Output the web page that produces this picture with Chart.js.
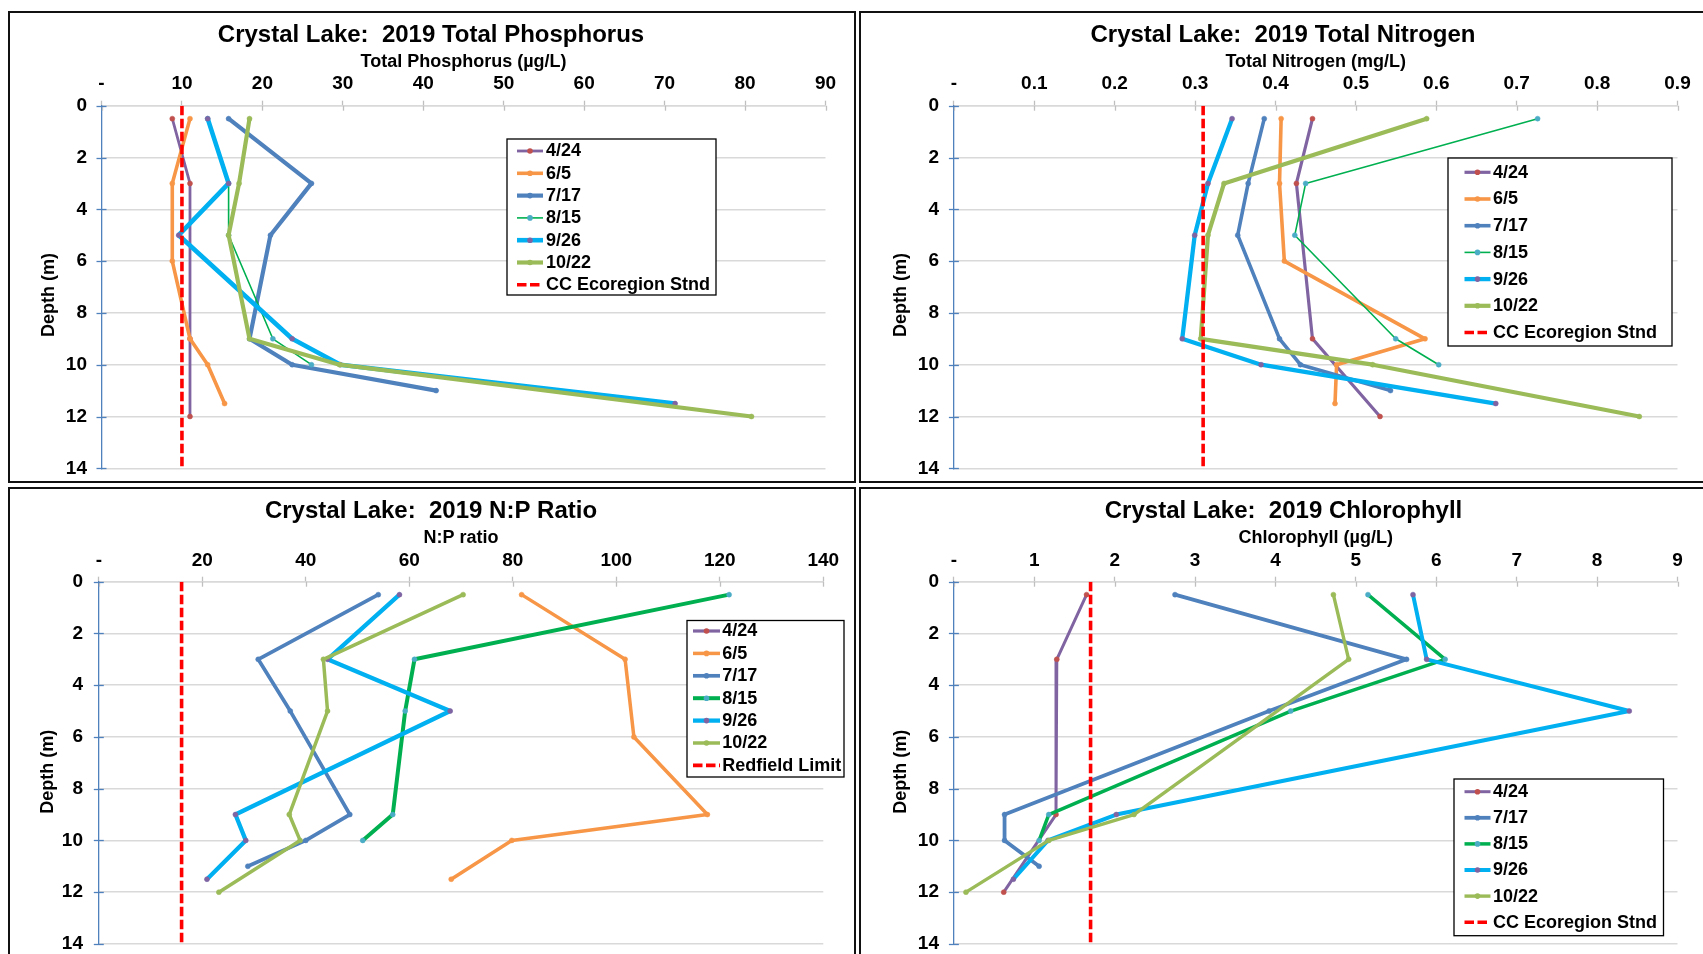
<!DOCTYPE html>
<html>
<head>
<meta charset="utf-8">
<script src="https://cdn.jsdelivr.net/npm/chart.js@4.4.1/dist/chart.umd.min.js"></script>
<style>
  html, body { margin: 0; padding: 0; background: #fff; }
  body { width: 1703px; height: 954px; overflow: hidden; position: relative; }
  .frame { position: absolute; border: 2px solid #111; box-sizing: border-box; background: #fff; }
  canvas { position: absolute; }
</style>
</head>
<body>
<div class="frame" style="left:8px;top:11px;width:848px;height:472px"></div>
<div class="frame" style="left:859px;top:11px;width:848px;height:472px"></div>
<div class="frame" style="left:8px;top:487px;width:848px;height:472px"></div>
<div class="frame" style="left:859px;top:487px;width:848px;height:472px"></div>
<canvas id="tp"  width="844" height="468" style="left:10px;top:13px;width:844px;height:468px"></canvas>
<canvas id="tn"  width="844" height="468" style="left:861px;top:13px;width:844px;height:468px"></canvas>
<canvas id="np"  width="844" height="468" style="left:10px;top:489px;width:844px;height:468px"></canvas>
<canvas id="chl" width="844" height="468" style="left:861px;top:489px;width:844px;height:468px"></canvas>
<script>
// ---------------------------------------------------------------------------
// Crystal Lake 2019 depth profiles
// ---------------------------------------------------------------------------

// Depth axis (m)
const depthTicks = [0, 2, 4, 6, 8, 10, 12, 14];
const depthTickLabels = ['0', '2', '4', '6', '8', '10', '12', '14'];

// Sampling depths (m) per sampling date
const depth_0424 = [0.5, 3, 9, 12];
const depth_0605 = [0.5, 3, 6, 9, 10, 11.5];
const depth_0717 = [0.5, 3, 5, 9, 10, 11];
const depth_0815 = [0.5, 3, 5, 9, 10];
const depth_0926 = [0.5, 3, 5, 9, 10, 11.5];
const depth_1022 = [0.5, 3, 5, 9, 10, 12];
const chlDepth_1022 = [0.5, 3, 9, 10, 12];
const stdDepth = [0, 14];

// Total Phosphorus (µg/L)
const tpTicks = [0, 10, 20, 30, 40, 50, 60, 70, 80, 90];
const tpTickLabels = ['-', '10', '20', '30', '40', '50', '60', '70', '80', '90'];
const tp_0424 = [8.8, 11.0, 11.0, 11.0];
const tp_0605 = [11.0, 8.8, 8.8, 11.0, 13.2, 15.3];
const tp_0717 = [15.8, 26.1, 21.0, 18.4, 23.7, 41.6];
const tp_0815 = [13.2, 15.8, 15.8, 21.3, 26.1];
const tp_0926 = [13.2, 15.8, 9.6, 23.7, 29.7, 71.3];
const tp_1022 = [18.4, 17.1, 15.8, 18.4, 29.6, 80.8];
const tpStd = [10, 10];

// Total Nitrogen (mg/L)
const tnTicks = [0, 0.1, 0.2, 0.3, 0.4, 0.5, 0.6, 0.7, 0.8, 0.9];
const tnTickLabels = ['-', '0.1', '0.2', '0.3', '0.4', '0.5', '0.6', '0.7', '0.8', '0.9'];
const tn_0424 = [0.446, 0.426, 0.446, 0.530];
const tn_0605 = [0.407, 0.405, 0.411, 0.586, 0.476, 0.474];
const tn_0717 = [0.386, 0.366, 0.353, 0.405, 0.431, 0.543];
const tn_0815 = [0.726, 0.4375, 0.424, 0.5495, 0.603];
const tn_0926 = [0.346, 0.316, 0.2995, 0.284, 0.382, 0.674];
const tn_1022 = [0.588, 0.336, 0.316, 0.307, 0.521, 0.8525];
const tnStd = [0.31, 0.31];

// N:P ratio
const npTicks = [0, 20, 40, 60, 80, 100, 120, 140];
const npTickLabels = ['-', '20', '40', '60', '80', '100', '120', '140'];
const np_0424 = [];
const np_0605 = [81.7, 101.7, 103.4, 117.6, 79.8, 68.1];
const np_0717 = [54.0, 30.8, 37.0, 48.5, 40.0, 28.8];
const np_0815 = [121.8, 61.0, 59.2, 56.8, 51.0];
const np_0926 = [58.1, 44.2, 67.9, 26.4, 28.4, 20.9];
const np_1022 = [70.4, 43.4, 44.2, 36.8, 38.9, 23.2];
const npRedfield = [16, 16];

// Chlorophyll (µg/L)
const chlTicks = [0, 1, 2, 3, 4, 5, 6, 7, 8, 9];
const chlTickLabels = ['-', '1', '2', '3', '4', '5', '6', '7', '8', '9'];
const chl_0424 = [1.65, 1.28, 1.27, 0.62];
const chl_0717 = [2.75, 5.63, 3.92, 0.63, 0.63, 1.06];
const chl_0815 = [5.15, 6.11, 4.19, 1.18, 1.06];
const chl_0926 = [5.71, 5.88, 8.40, 2.02, 1.17, 0.74];
const chl_1022 = [4.72, 4.91, 2.24, 1.18, 0.15];
const chlStd = [1.7, 1.7];

// ---------------------------------------------------------------------------
// Styling
// ---------------------------------------------------------------------------
const FONT = '"Liberation Sans", Arial, Helvetica, sans-serif';
Chart.defaults.font.family = FONT;
Chart.defaults.color = '#000';

const LINE = { d0424: '#8064A2', d0605: '#F79646', d0717: '#4F81BD', d0815: '#00B050', d0926: '#00B0F0', d1022: '#9BBB59', std: '#FF0000' };
const MARK = { d0424: '#C0504D', d0605: '#F79646', d0717: '#4F81BD', d0815: '#4BACC6', d0926: '#8064A2', d1022: '#9BBB59' };
const GRID = '#D9D9D9';
const AXIS_BLUE = '#4F81BD';

const TITLE_SIZE = 24, AXIS_TITLE_SIZE = 18, TICK_SIZE = 19, LEGEND_SIZE = 18, DEPTH_SIZE = 18;
const LH = 1.2, TICK_LEN = 5;

function points(depths, values) {
  return values.map((v, i) => ({ x: v, y: depths[i] }));
}

function series(label, key, depths, values, width) {
  return {
    label,
    data: points(depths, values),
    showLine: true,
    borderColor: LINE[key],
    backgroundColor: MARK[key],
    pointBackgroundColor: MARK[key],
    pointBorderColor: MARK[key],
    pointBorderWidth: 0.5,
    pointRadius: 2.5,
    borderWidth: width,
    borderJoinStyle: 'round',
    borderCapStyle: 'round',
    tension: 0
  };
}

function standard(label, values) {
  return {
    label,
    data: points(stdDepth, values),
    showLine: true,
    borderColor: LINE.std,
    backgroundColor: LINE.std,
    borderWidth: 3.6,
    borderDash: [9.5, 3.5],
    borderCapStyle: 'butt',
    pointRadius: 0,
    tension: 0
  };
}

// Tick marks crossing the axis lines, depth-axis title and the framed legend
const panelExtras = {
  id: 'panelExtras',
  beforeDatasetsDraw(chart) {
    const { ctx, chartArea: a, scales: { x, y } } = chart;
    ctx.save();
    ctx.lineWidth = 1.3;
    ctx.strokeStyle = '#BFBFBF';
    x.ticks.forEach(t => {
      const px = Math.round(x.getPixelForValue(t.value)) + 0.5;
      ctx.beginPath(); ctx.moveTo(px, a.top); ctx.lineTo(px, a.top + TICK_LEN); ctx.stroke();
    });
    ctx.strokeStyle = AXIS_BLUE;
    y.ticks.forEach(t => {
      const py = Math.round(y.getPixelForValue(t.value)) + 0.5;
      ctx.beginPath(); ctx.moveTo(a.left - TICK_LEN, py); ctx.lineTo(a.left + TICK_LEN, py); ctx.stroke();
    });
    ctx.restore();
  },
  afterDraw(chart, args, opts) {
    const { ctx } = chart;
    const o = opts.origin;
    ctx.save();
    // Depth axis title
    ctx.translate(opts.depthTitle.x - o.x, opts.depthTitle.y - o.y);
    ctx.rotate(-Math.PI / 2);
    ctx.font = 'bold ' + DEPTH_SIZE + 'px ' + FONT;
    ctx.fillStyle = '#000';
    ctx.textAlign = 'center';
    ctx.textBaseline = 'middle';
    ctx.fillText(opts.depthTitle.text, 0, 0);
    ctx.restore();

    // Legend
    const L = opts.legend;
    ctx.save();
    ctx.fillStyle = '#fff';
    ctx.fillRect(L.x0 - o.x, L.y0 - o.y, L.x1 - L.x0, L.y1 - L.y0);
    ctx.strokeStyle = '#000';
    ctx.lineWidth = 1.3;
    ctx.strokeRect(L.x0 - o.x, L.y0 - o.y, L.x1 - L.x0, L.y1 - L.y0);
    ctx.font = 'bold ' + LEGEND_SIZE + 'px ' + FONT;
    ctx.textAlign = 'left';
    ctx.textBaseline = 'middle';
    chart.data.datasets.forEach((ds, i) => {
      const yy = L.row1 + i * L.step - o.y;
      const sx0 = L.sx0 - o.x, sx1 = L.sx1 - o.x;
      ctx.strokeStyle = ds.borderColor;
      ctx.lineWidth = ds.borderWidth;
      ctx.lineCap = 'butt';
      ctx.setLineDash(ds.borderDash || []);
      ctx.beginPath(); ctx.moveTo(sx0, yy); ctx.lineTo(sx1, yy); ctx.stroke();
      ctx.setLineDash([]);
      if (ds.pointRadius > 0) {
        ctx.fillStyle = ds.pointBackgroundColor;
        ctx.beginPath(); ctx.arc((sx0 + sx1) / 2, yy, ds.pointRadius + 0.3, 0, Math.PI * 2); ctx.fill();
      }
      ctx.fillStyle = '#000';
      ctx.fillText(ds.label, L.tx - o.x, yy + 0.5);
    });
    ctx.restore();
  }
};

function buildPanel(p) {
  const c = p.canvas;
  const lhTitle = TITLE_SIZE * LH, lhAxis = AXIS_TITLE_SIZE * LH, lhTick = TICK_SIZE * LH;
  const padL = 2 * p.titleX - c.x - p.plot.x1;
  const padR = c.x + c.w - p.plot.x1;
  const padB = c.y + c.h - p.plot.y1;
  const yWidth = p.plot.x0 - c.x - padL;
  const titlePadTop = p.titleY - c.y - lhTitle / 2;
  const xTop = titlePadTop + lhTitle;
  const xHeight = p.plot.y0 - c.y - xTop;
  const xTitlePad = p.axisTitleY - c.y - xTop - lhAxis / 2;
  const xTickPad = p.plot.y0 - p.tickY - lhTick / 2 - TICK_LEN;
  // gap between the depth labels and the axis line (drawn ticks are added by the plugin)
  const yLabelGap = p.plot.x0 - p.yTickRight;

  const n = p.datasets.length;
  p.datasets.forEach((ds, i) => { ds.order = n - i; });

  return new Chart(document.getElementById(p.id), {
    type: 'scatter',
    data: { datasets: p.datasets },
    plugins: [panelExtras],
    options: {
      responsive: false,
      animation: false,
      events: [],
      layout: { padding: { left: padL, right: padR, top: 0, bottom: padB } },
      plugins: {
        legend: { display: false },
        tooltip: { enabled: false },
        title: {
          display: true,
          text: p.title,
          color: '#000',
          font: { size: TITLE_SIZE, weight: 'bold', lineHeight: LH },
          padding: { top: titlePadTop, bottom: 0 }
        },
        panelExtras: {
          origin: { x: c.x, y: c.y },
          depthTitle: { text: 'Depth (m)', x: p.depthTitle.x, y: p.depthTitle.y },
          legend: p.legend
        }
      },
      scales: {
        x: {
          type: 'linear',
          position: 'top',
          min: p.xTicks[0],
          max: p.xTicks[p.xTicks.length - 1],
          afterBuildTicks: s => { s.ticks = p.xTicks.map(v => ({ value: v })); },
          afterFit: s => { s.height = xHeight; },
          ticks: {
            autoSkip: false,
            maxRotation: 0,
            padding: xTickPad,
            font: { size: TICK_SIZE, weight: 'bold', lineHeight: LH },
            callback: (v, i) => p.xTickLabels[i]
          },
          grid: { drawOnChartArea: false, drawTicks: true, tickLength: TICK_LEN, tickColor: '#BFBFBF', tickWidth: 1.3 },
          border: { display: true, color: GRID, width: 1.6 },
          title: {
            display: true,
            text: p.axisTitle,
            color: '#000',
            font: { size: AXIS_TITLE_SIZE, weight: 'bold', lineHeight: LH },
            padding: { top: xTitlePad, bottom: 0 }
          }
        },
        y: {
          type: 'linear',
          position: 'left',
          reverse: true,
          min: 0,
          max: 14,
          afterBuildTicks: s => { s.ticks = depthTicks.map(v => ({ value: v })); },
          afterFit: s => { s.width = yWidth; },
          ticks: {
            padding: 0,
            font: { size: TICK_SIZE, weight: 'bold', lineHeight: LH },
            callback: (v, i) => depthTickLabels[i]
          },
          grid: { color: GRID, lineWidth: 1.4, drawTicks: true, tickLength: yLabelGap, tickColor: 'rgba(0,0,0,0)' },
          border: { display: true, color: AXIS_BLUE, width: 1.3 },
          title: { display: false }
        }
      }
    }
  });
}

// Total Phosphorus
buildPanel({
  id: 'tp',
  canvas: { x: 10, y: 13, w: 844, h: 468 },
  plot: { x0: 101.5, x1: 825.5, y0: 105.7, y1: 468.3 },
  titleX: 431, titleY: 35, axisTitleY: 62, tickY: 84, yTickRight: 87,
  depthTitle: { x: 49, y: 295 },
  title: 'Crystal Lake:  2019 Total Phosphorus',
  axisTitle: 'Total Phosphorus (µg/L)',
  xTicks: tpTicks, xTickLabels: tpTickLabels,
  legend: { x0: 507, y0: 139, x1: 716, y1: 295, sx0: 517, sx1: 543, tx: 546, row1: 151, step: 22.3 },
  datasets: [
    series('4/24', 'd0424', depth_0424, tp_0424, 2.8),
    series('6/5', 'd0605', depth_0605, tp_0605, 3.6),
    series('7/17', 'd0717', depth_0717, tp_0717, 4.2),
    series('8/15', 'd0815', depth_0815, tp_0815, 1.6),
    series('9/26', 'd0926', depth_0926, tp_0926, 4.6),
    series('10/22', 'd1022', depth_1022, tp_1022, 4.2),
    standard('CC Ecoregion Stnd', tpStd)
  ]
});

// Total Nitrogen
buildPanel({
  id: 'tn',
  canvas: { x: 861, y: 13, w: 844, h: 468 },
  plot: { x0: 953.9, x1: 1677.5, y0: 105.7, y1: 468.3 },
  titleX: 1283, titleY: 35, axisTitleY: 62, tickY: 84, yTickRight: 939,
  depthTitle: { x: 901, y: 295 },
  title: 'Crystal Lake:  2019 Total Nitrogen',
  axisTitle: 'Total Nitrogen (mg/L)',
  xTicks: tnTicks, xTickLabels: tnTickLabels,
  legend: { x0: 1448, y0: 158, x1: 1672, y1: 346, sx0: 1464.5, sx1: 1490.5, tx: 1493, row1: 172.3, step: 26.7 },
  datasets: [
    series('4/24', 'd0424', depth_0424, tn_0424, 3.2),
    series('6/5', 'd0605', depth_0605, tn_0605, 3.6),
    series('7/17', 'd0717', depth_0717, tn_0717, 3.6),
    series('8/15', 'd0815', depth_0815, tn_0815, 1.6),
    series('9/26', 'd0926', depth_0926, tn_0926, 4.3),
    series('10/22', 'd1022', depth_1022, tn_1022, 4.2),
    standard('CC Ecoregion Stnd', tnStd)
  ]
});

// N:P ratio
buildPanel({
  id: 'np',
  canvas: { x: 10, y: 489, w: 844, h: 468 },
  plot: { x0: 98.8, x1: 823.3, y0: 581.7, y1: 943.9 },
  titleX: 431, titleY: 511, axisTitleY: 538.3, tickY: 561, yTickRight: 83,
  depthTitle: { x: 48.5, y: 771.7 },
  title: 'Crystal Lake:  2019 N:P Ratio',
  axisTitle: 'N:P ratio',
  xTicks: npTicks, xTickLabels: npTickLabels,
  legend: { x0: 687, y0: 620.5, x1: 844, y1: 777, sx0: 693, sx1: 720, tx: 722.3, row1: 631, step: 22.4 },
  datasets: [
    series('4/24', 'd0424', depth_0424, np_0424, 3.2),
    series('6/5', 'd0605', depth_0605, np_0605, 3.5),
    series('7/17', 'd0717', depth_0717, np_0717, 3.7),
    series('8/15', 'd0815', depth_0815, np_0815, 4),
    series('9/26', 'd0926', depth_0926, np_0926, 4.3),
    series('10/22', 'd1022', depth_1022, np_1022, 3.5),
    standard('Redfield Limit', npRedfield)
  ]
});

// Chlorophyll
buildPanel({
  id: 'chl',
  canvas: { x: 861, y: 489, w: 844, h: 468 },
  plot: { x0: 953.9, x1: 1677.5, y0: 581.7, y1: 943.9 },
  titleX: 1283.5, titleY: 511, axisTitleY: 538.3, tickY: 561, yTickRight: 939,
  depthTitle: { x: 901, y: 771.7 },
  title: 'Crystal Lake:  2019 Chlorophyll',
  axisTitle: 'Chlorophyll (µg/L)',
  xTicks: chlTicks, xTickLabels: chlTickLabels,
  legend: { x0: 1454, y0: 779, x1: 1663.5, y1: 935.7, sx0: 1464.5, sx1: 1490.5, tx: 1493, row1: 791.7, step: 26.1 },
  datasets: [
    series('4/24', 'd0424', depth_0424, chl_0424, 3),
    series('7/17', 'd0717', depth_0717, chl_0717, 3.8),
    series('8/15', 'd0815', depth_0815, chl_0815, 3.5),
    series('9/26', 'd0926', depth_0926, chl_0926, 4),
    series('10/22', 'd1022', chlDepth_1022, chl_1022, 3.4),
    standard('CC Ecoregion Stnd', chlStd)
  ]
});
</script>
</body>
</html>
